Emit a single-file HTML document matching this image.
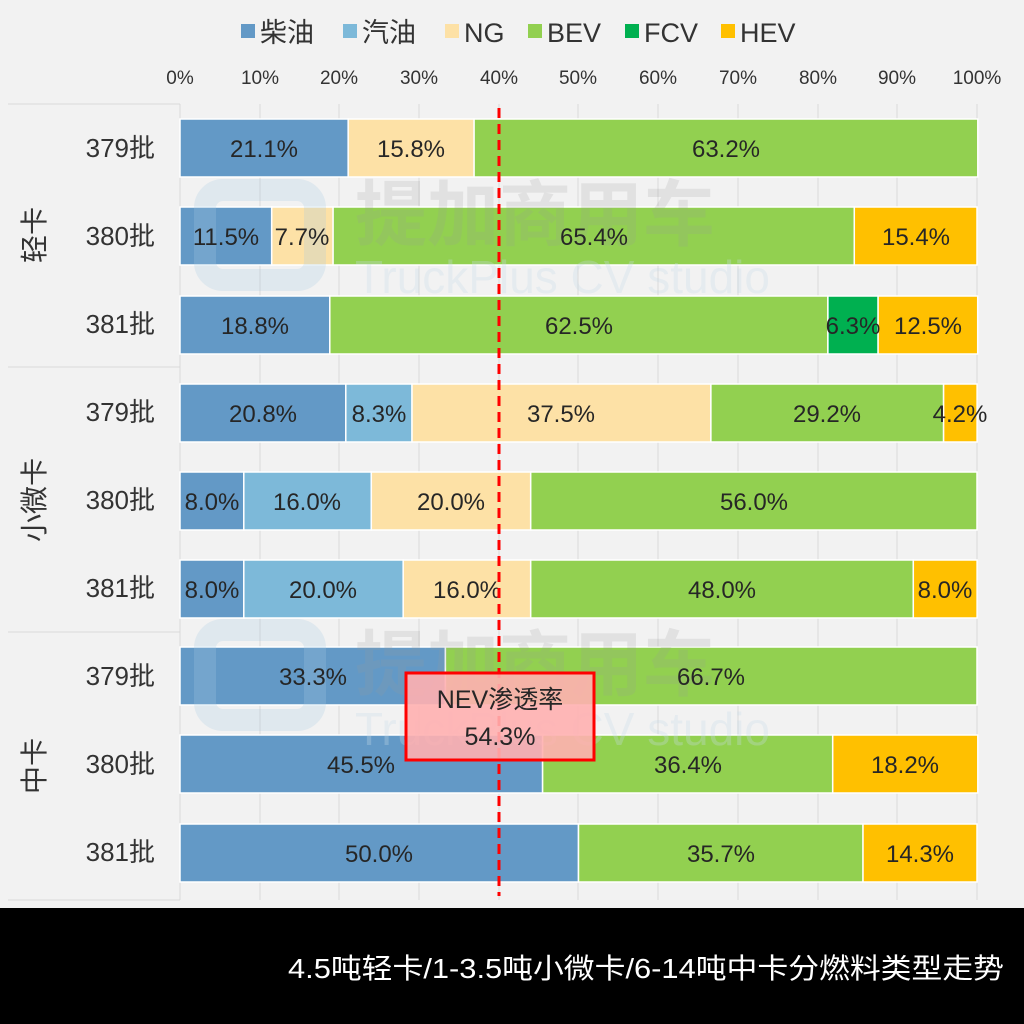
<!DOCTYPE html>
<html><head><meta charset="utf-8"><style>
html,body{margin:0;padding:0;background:#f2f2f2;}
svg{display:block;font-family:"Liberation Sans","Noto Sans CJK SC",sans-serif;}
</style></head><body>
<svg width="1024" height="1024" viewBox="0 0 1024 1024" xmlns="http://www.w3.org/2000/svg">
<rect width="1024" height="1024" fill="#f2f2f2"/>
<g font-size="27" fill="#333">
<rect x="241" y="24" width="14" height="14" fill="#6399c6"/><text x="260" y="42">柴油</text>
<rect x="343" y="24" width="14" height="14" fill="#7db9d9"/><text x="362" y="42">汽油</text>
<rect x="445" y="24" width="14" height="14" fill="#fde1a6"/><text x="464" y="42">NG</text>
<rect x="528" y="24" width="14" height="14" fill="#92d050"/><text x="547" y="42">BEV</text>
<rect x="625" y="24" width="14" height="14" fill="#00b050"/><text x="644" y="42">FCV</text>
<rect x="721" y="24" width="14" height="14" fill="#ffc000"/><text x="740" y="42">HEV</text>
</g>
<g font-size="19" fill="#333" text-anchor="middle">
<text x="180" y="84">0%</text><text x="260" y="84">10%</text><text x="339" y="84">20%</text><text x="419" y="84">30%</text><text x="499" y="84">40%</text><text x="578" y="84">50%</text><text x="658" y="84">60%</text><text x="738" y="84">70%</text><text x="818" y="84">80%</text><text x="897" y="84">90%</text><text x="977" y="84">100%</text>
</g>
<g stroke="#d9d9d9" stroke-width="1">
<line x1="260" y1="104" x2="260" y2="900"/><line x1="339" y1="104" x2="339" y2="900"/><line x1="419" y1="104" x2="419" y2="900"/><line x1="499" y1="104" x2="499" y2="900"/><line x1="578" y1="104" x2="578" y2="900"/><line x1="658" y1="104" x2="658" y2="900"/><line x1="738" y1="104" x2="738" y2="900"/><line x1="818" y1="104" x2="818" y2="900"/><line x1="897" y1="104" x2="897" y2="900"/><line x1="977" y1="104" x2="977" y2="900"/>
<line x1="180" y1="104" x2="180" y2="900"/>
<line x1="8" y1="104" x2="180" y2="104"/><line x1="8" y1="367" x2="180" y2="367"/><line x1="8" y1="632" x2="180" y2="632"/><line x1="8" y1="900" x2="180" y2="900"/>
</g>
<g font-size="26" fill="#333" text-anchor="end">
<text x="155" y="157">379批</text><text x="155" y="245">380批</text><text x="155" y="333">381批</text>
<text x="155" y="421">379批</text><text x="155" y="509">380批</text><text x="155" y="597">381批</text>
<text x="155" y="685">379批</text><text x="155" y="773">380批</text><text x="155" y="861">381批</text>
</g>
<g font-size="28" fill="#333" text-anchor="middle">
<text transform="translate(44,235) rotate(-90)">轻卡</text>
<text transform="translate(44,500) rotate(-90)">小微卡</text>
<text transform="translate(44,766) rotate(-90)">中卡</text>
</g>
<g stroke="#fff" stroke-width="1.5">
<rect x="180" y="119" width="168.2" height="58" fill="#6399c6"/><rect x="348.2" y="119" width="125.9" height="58" fill="#fde1a6"/><rect x="474.1" y="119" width="503.7" height="58" fill="#92d050"/>
<rect x="180" y="207" width="91.7" height="58" fill="#6399c6"/><rect x="271.7" y="207" width="61.4" height="58" fill="#fde1a6"/><rect x="333.1" y="207" width="521.2" height="58" fill="#92d050"/><rect x="854.3" y="207" width="122.7" height="58" fill="#ffc000"/>
<rect x="180" y="296" width="149.8" height="58" fill="#6399c6"/><rect x="329.8" y="296" width="498.1" height="58" fill="#92d050"/><rect x="827.9" y="296" width="50.2" height="58" fill="#00b050"/><rect x="878.1" y="296" width="99.6" height="58" fill="#ffc000"/>
<rect x="180" y="384" width="165.8" height="58" fill="#6399c6"/><rect x="345.8" y="384" width="66.2" height="58" fill="#7db9d9"/><rect x="412" y="384" width="298.9" height="58" fill="#fde1a6"/><rect x="710.9" y="384" width="232.7" height="58" fill="#92d050"/><rect x="943.6" y="384" width="33.5" height="58" fill="#ffc000"/>
<rect x="180" y="472" width="63.8" height="58" fill="#6399c6"/><rect x="243.8" y="472" width="127.5" height="58" fill="#7db9d9"/><rect x="371.3" y="472" width="159.4" height="58" fill="#fde1a6"/><rect x="530.7" y="472" width="446.3" height="58" fill="#92d050"/>
<rect x="180" y="560" width="63.8" height="58" fill="#6399c6"/><rect x="243.8" y="560" width="159.4" height="58" fill="#7db9d9"/><rect x="403.2" y="560" width="127.5" height="58" fill="#fde1a6"/><rect x="530.7" y="560" width="382.6" height="58" fill="#92d050"/><rect x="913.3" y="560" width="63.8" height="58" fill="#ffc000"/>
<rect x="180" y="647" width="265.4" height="58" fill="#6399c6"/><rect x="445.4" y="647" width="531.6" height="58" fill="#92d050"/>
<rect x="180" y="735" width="362.6" height="58" fill="#6399c6"/><rect x="542.6" y="735" width="290.1" height="58" fill="#92d050"/><rect x="832.7" y="735" width="145.1" height="58" fill="#ffc000"/>
<rect x="180" y="824" width="398.5" height="58" fill="#6399c6"/><rect x="578.5" y="824" width="284.5" height="58" fill="#92d050"/><rect x="863" y="824" width="114" height="58" fill="#ffc000"/>
</g>
<g fill="none" stroke="#a8cbe3" stroke-width="22" opacity="0.25">
<rect x="205" y="190" width="110" height="90" rx="18"/><rect x="205" y="630" width="110" height="90" rx="18"/>
</g>
<g font-size="72" font-weight="bold" fill="#9a9a9a" opacity="0.18"><text x="355" y="240">提加商用车</text><text x="355" y="690">提加商用车</text></g>
<g font-size="46" fill="#c8dcea" opacity="0.3"><text x="355" y="293">TruckPlus CV studio</text><text x="355" y="745">TruckPlus CV studio</text></g>
<g font-size="24" fill="#262626" text-anchor="middle">
<text x="264" y="157">21.1%</text><text x="411" y="157">15.8%</text><text x="726" y="157">63.2%</text>
<text x="226" y="245">11.5%</text><text x="302" y="245">7.7%</text><text x="594" y="245">65.4%</text><text x="916" y="245">15.4%</text>
<text x="255" y="334">18.8%</text><text x="579" y="334">62.5%</text><text x="853" y="334">6.3%</text><text x="928" y="334">12.5%</text>
<text x="263" y="422">20.8%</text><text x="379" y="422">8.3%</text><text x="561" y="422">37.5%</text><text x="827" y="422">29.2%</text><text x="960" y="422">4.2%</text>
<text x="212" y="510">8.0%</text><text x="307" y="510">16.0%</text><text x="451" y="510">20.0%</text><text x="754" y="510">56.0%</text>
<text x="212" y="598">8.0%</text><text x="323" y="598">20.0%</text><text x="467" y="598">16.0%</text><text x="722" y="598">48.0%</text><text x="945" y="598">8.0%</text>
<text x="313" y="685">33.3%</text><text x="711" y="685">66.7%</text>
<text x="361" y="773">45.5%</text><text x="688" y="773">36.4%</text><text x="905" y="773">18.2%</text>
<text x="379" y="862">50.0%</text><text x="721" y="862">35.7%</text><text x="920" y="862">14.3%</text>
</g>
<line x1="499" y1="108" x2="499" y2="896" stroke="#ff0000" stroke-width="3" stroke-dasharray="10,6"/>
<rect x="406" y="673" width="188" height="87" fill="#ffb0b0" fill-opacity="0.9" stroke="#ff0000" stroke-width="3"/>
<g font-size="25" fill="#262626" text-anchor="middle"><text x="500" y="708">NEV渗透率</text><text x="500" y="745">54.3%</text></g>
<rect x="0" y="908" width="1024" height="116" fill="#000"/>
<text x="1004" y="978" font-size="28" fill="#fff" text-anchor="end" textLength="716" lengthAdjust="spacingAndGlyphs">4.5吨轻卡/1-3.5吨小微卡/6-14吨中卡分燃料类型走势</text>
</svg>
</body></html>
